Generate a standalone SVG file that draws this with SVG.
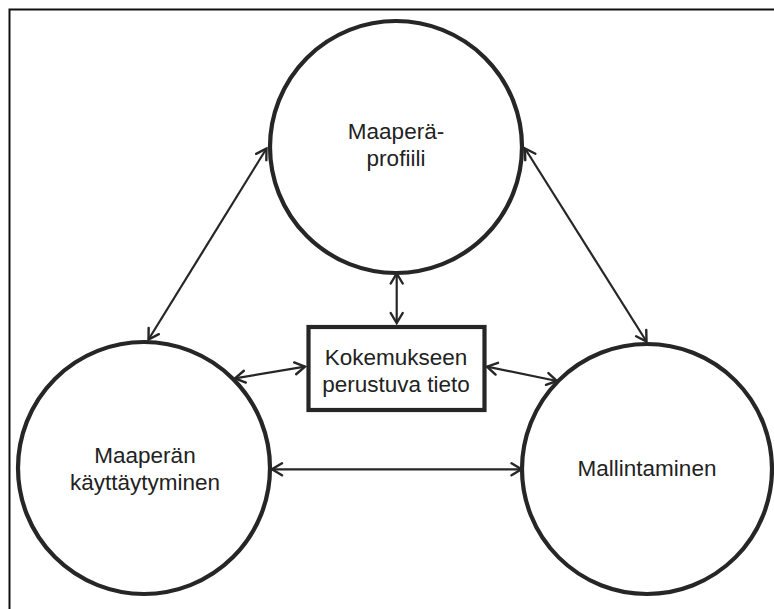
<svg xmlns="http://www.w3.org/2000/svg" width="774" height="609" viewBox="0 0 774 609">
<style>
.node{fill:#fff;stroke:#262626;stroke-width:4.2}
.lbl{font-family:"Liberation Sans",Arial,sans-serif;font-size:22.5px;fill:#222;text-anchor:middle}
.con{stroke:#262626;stroke-width:2.2;fill:none;marker-start:url(#ah);marker-end:url(#ah)}
</style>
<defs>
<marker id="ah" markerUnits="userSpaceOnUse" viewBox="-13 -8 15 16" refX="0" refY="0" markerWidth="15" markerHeight="16" orient="auto-start-reverse">
<path d="M-10,-6 L0,0 L-10,6" fill="none" stroke="#262626" stroke-width="2.4" stroke-linecap="round" stroke-linejoin="miter"/>
</marker>
</defs>
<rect width="774" height="609" fill="#fff"/>
<path d="M9.5,609 V9.5 H774" fill="none" stroke="#111" stroke-width="2"/>
<g id="connectors">
<line class="con" x1="148.5" y1="339.5" x2="266.5" y2="148.5"/>
<line class="con" x1="525" y1="148.5" x2="646.5" y2="341.5"/>
<line class="con" x1="396.7" y1="273.5" x2="396.7" y2="323"/>
<line class="con" x1="235" y1="378.3" x2="305" y2="366.7"/>
<line class="con" x1="487" y1="366.7" x2="557" y2="381"/>
<line class="con" x1="272" y1="469.3" x2="521.5" y2="469.3"/>
</g>
<g id="maapera-profiili">
<circle class="node" cx="396" cy="147" r="126"/>
<text class="lbl" x="396" y="139">Maaperä-</text>
<text class="lbl" x="396" y="165.5">profiili</text>
</g>
<g id="maaperan-kayttaytyminen">
<circle class="node" cx="144" cy="468" r="126"/>
<text class="lbl" x="145" y="463">Maaperän</text>
<text class="lbl" x="145" y="490">käyttäytyminen</text>
</g>
<g id="mallintaminen">
<circle class="node" cx="647" cy="469" r="125"/>
<text class="lbl" x="647" y="476">Mallintaminen</text>
</g>
<g id="kokemukseen-perustuva-tieto">
<rect class="node" x="308.5" y="327" width="176" height="83"/>
<text class="lbl" x="396" y="365">Kokemukseen</text>
<text class="lbl" x="396" y="391.5">perustuva tieto</text>
</g>
</svg>
